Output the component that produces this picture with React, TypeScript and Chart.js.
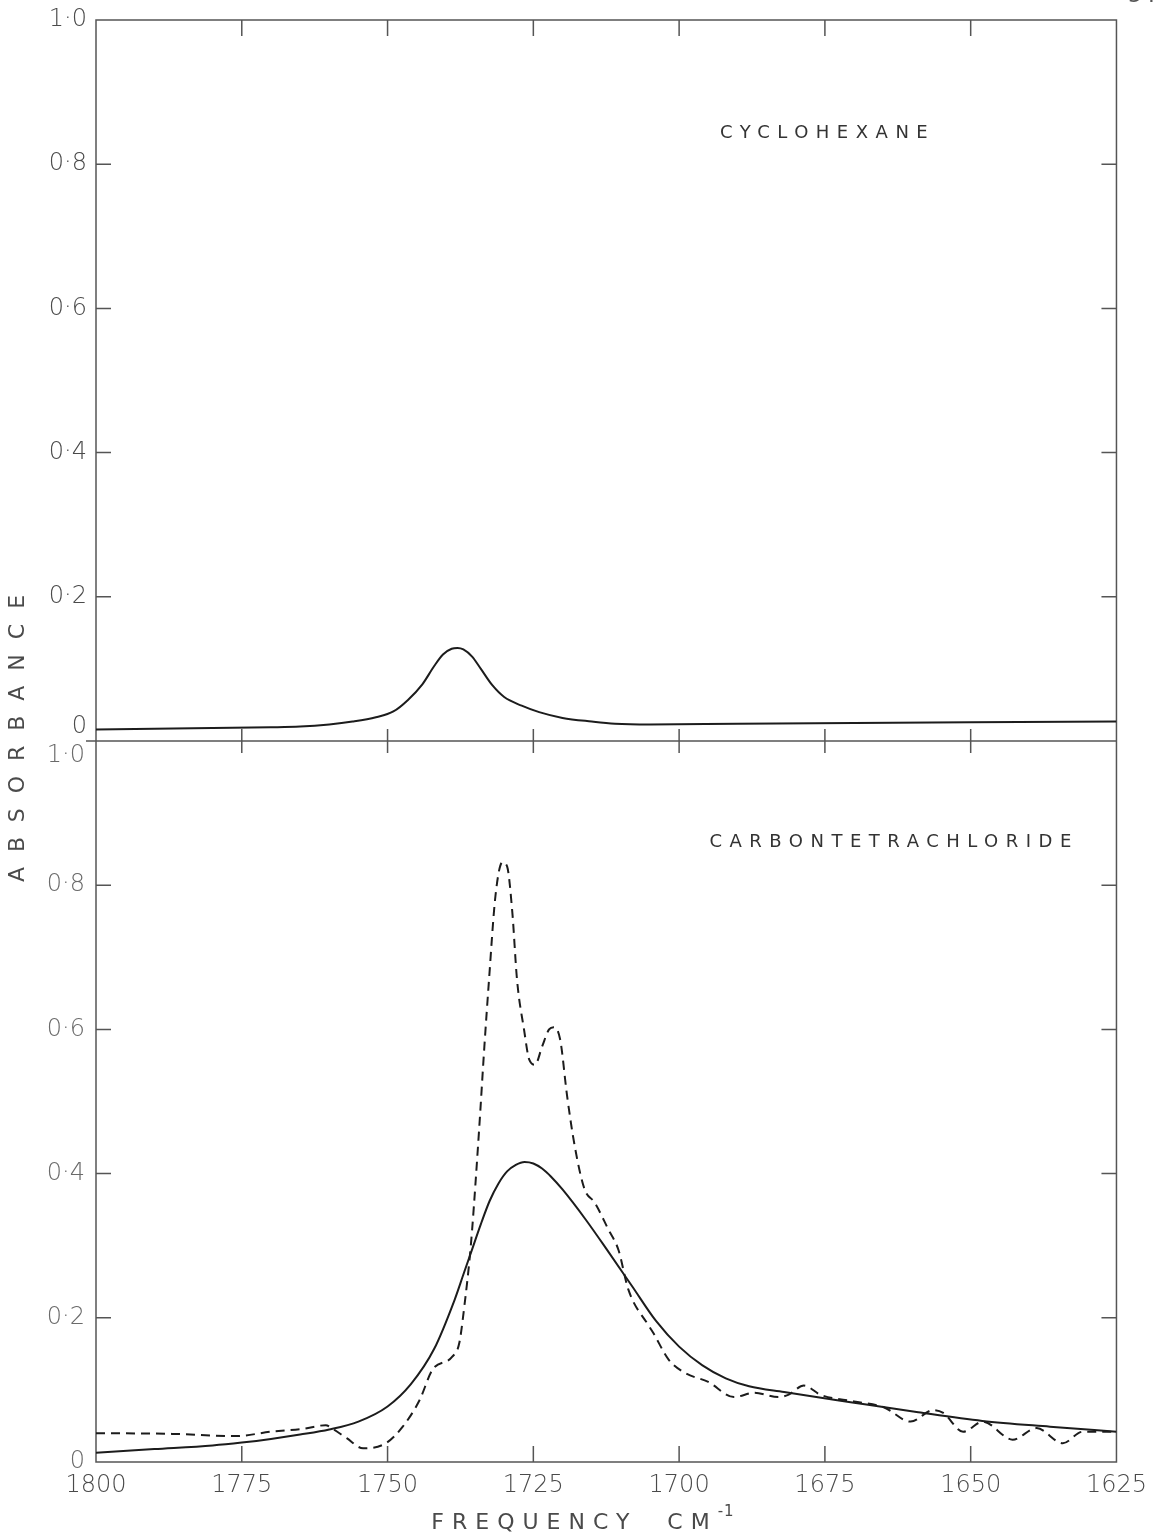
import React, { useEffect, useRef } from 'react';
import { Chart, registerables } from 'chart.js';

Chart.register(...registerables);

// ---- data (frequency in cm^-1, absorbance) ----
const xTickValues = [1800, 1775, 1750, 1725, 1700, 1675, 1650, 1625];
const yInnerTicks = [0.2, 0.4, 0.6, 0.8];

const cyclohexaneFreq = [1800, 1790, 1780, 1770, 1765, 1760, 1756, 1752, 1749, 1746.5, 1744, 1742, 1740.5, 1739, 1738, 1737, 1735.5, 1734, 1732, 1730, 1727, 1724, 1720, 1715, 1711, 1705, 1690, 1670, 1650, 1625];
const cyclohexaneAbs = [0.016, 0.017, 0.018, 0.019, 0.020, 0.023, 0.027, 0.033, 0.041, 0.057, 0.079, 0.104, 0.120, 0.128, 0.129, 0.127, 0.117, 0.100, 0.077, 0.061, 0.049, 0.040, 0.032, 0.027, 0.024, 0.023, 0.024, 0.025, 0.026, 0.027];

const ccl4SolidFreq = [1800, 1790, 1780, 1775, 1770, 1765, 1760, 1755, 1750, 1746, 1742, 1738.5, 1737, 1735.5, 1734, 1732.5, 1731, 1729.5, 1728, 1726.5, 1725, 1723.5, 1722, 1720, 1716, 1712, 1708, 1704, 1700, 1696, 1692, 1688, 1682, 1670.6, 1659, 1648, 1636.4, 1625];
const ccl4SolidAbs = [0.013, 0.018, 0.023, 0.027, 0.032, 0.038, 0.045, 0.056, 0.077, 0.108, 0.157, 0.225, 0.260, 0.295, 0.330, 0.362, 0.386, 0.403, 0.412, 0.416, 0.414, 0.407, 0.396, 0.378, 0.336, 0.290, 0.243, 0.196, 0.160, 0.134, 0.116, 0.105, 0.097, 0.083, 0.069, 0.057, 0.049, 0.042];

const ccl4DashedFreq = [1800, 1787, 1776, 1770, 1764.5, 1760.6, 1759.4, 1757, 1754.2, 1750.3, 1747.4, 1744.5, 1742.3, 1738.9, 1737.7, 1736.7, 1736.0, 1735.5, 1734.3, 1733.4, 1732.6, 1731.5, 1730.3, 1729.5, 1728.6, 1727.8, 1726.6, 1725.7, 1724.7, 1723.5, 1722.3, 1721.5, 1720.4, 1719.2, 1717.9, 1716.2, 1714.5, 1712.1, 1710.4, 1708.7, 1705.3, 1704.5, 1701.8, 1699.1, 1695.0, 1690.6, 1687.1, 1683.0, 1681.3, 1678.6, 1675.7, 1670, 1664.9, 1660.3, 1656.4, 1654.7, 1651.3, 1647.9, 1642.8, 1638.7, 1634.2, 1630.8, 1625.3];
const ccl4DashedAbs = [0.040, 0.039, 0.036, 0.042, 0.046, 0.051, 0.046, 0.033, 0.019, 0.026, 0.049, 0.086, 0.128, 0.146, 0.165, 0.225, 0.276, 0.322, 0.461, 0.576, 0.669, 0.785, 0.832, 0.826, 0.762, 0.669, 0.600, 0.558, 0.551, 0.576, 0.600, 0.603, 0.586, 0.507, 0.438, 0.378, 0.360, 0.322, 0.294, 0.239, 0.190, 0.180, 0.142, 0.124, 0.111, 0.090, 0.096, 0.090, 0.093, 0.106, 0.093, 0.084, 0.076, 0.056, 0.072, 0.068, 0.042, 0.056, 0.031, 0.047, 0.026, 0.042, 0.042];

const panelTitles = ['CYCLOHEXANE', 'CARBONTETRACHLORIDE'];
const yAxisTitle = 'ABSORBANCE';
const xAxisTitle = 'FREQUENCY  CM';
const xAxisTitleSup = '-1';
const pageNumber = '54';

const FONT = "'DejaVu Sans', sans-serif";
const INK = '#1c1c1c';
const AXIS = '#555';
const TEXT = '#4a4a4a';

const toPoints = (xs: number[], ys: number[]) => xs.map((x, i) => ({ x, y: ys[i] }));

const fmt = (v: number) => {
  if (Math.abs(v) < 1e-9) return '0';
  return v.toFixed(1).replace('.', '·');
};

const fixY = (s: any) => {
  s.width = 86;
  s.paddingTop = 0;
  s.paddingBottom = 0;
};

const framePlugin = {
  id: 'frame',
  beforeDatasetsDraw(chart: any) {
    const { ctx, chartArea } = chart;
    const x = chart.scales.x;
    const yt = chart.scales.yTop;
    const yb = chart.scales.yBot;
    const L = chartArea.left;
    const R = chartArea.right;
    const T = yt.getPixelForValue(1);
    const M = yt.getPixelForValue(0);
    const B = yb.getPixelForValue(0);
    ctx.save();
    ctx.strokeStyle = AXIS;
    ctx.lineWidth = 1.5;
    ctx.strokeRect(L, T, R - L, B - T);
    ctx.beginPath();
    ctx.moveTo(L - 10, M);
    ctx.lineTo(R, M);
    ctx.stroke();
    ctx.beginPath();
    for (const f of xTickValues) {
      if (f === 1800 || f === 1625) continue;
      const px = x.getPixelForValue(f);
      ctx.moveTo(px, T); ctx.lineTo(px, T + 16);
      ctx.moveTo(px, M - 12); ctx.lineTo(px, M + 12);
      ctx.moveTo(px, B - 16); ctx.lineTo(px, B);
    }
    for (const s of [yt, yb]) {
      for (const v of yInnerTicks) {
        const py = s.getPixelForValue(v);
        ctx.moveTo(L, py); ctx.lineTo(L + 15, py);
        ctx.moveTo(R - 15, py); ctx.lineTo(R, py);
      }
    }
    ctx.stroke();
    ctx.restore();
  },
  afterDraw(chart: any) {
    const { ctx } = chart;
    const x = chart.scales.x;
    const yt = chart.scales.yTop;
    const yb = chart.scales.yBot;
    ctx.save();
    ctx.fillStyle = '#333';
    ctx.textBaseline = 'middle';
    ctx.textAlign = 'left';
    ctx.font = `18px ${FONT}`;
    (ctx as any).letterSpacing = '7.5px';
    ctx.fillText(panelTitles[0], x.getPixelForValue(1693), yt.getPixelForValue(0.843));
    ctx.fillText(panelTitles[1], x.getPixelForValue(1694.8), yb.getPixelForValue(0.86));

    // y axis title
    ctx.save();
    ctx.fillStyle = TEXT;
    ctx.font = `22px ${FONT}`;
    (ctx as any).letterSpacing = '15px';
    ctx.translate(18, 738);
    ctx.rotate(-Math.PI / 2);
    ctx.textAlign = 'center';
    ctx.fillText(yAxisTitle, 7, 0);
    ctx.restore();

    // x axis title
    ctx.fillStyle = TEXT;
    ctx.font = `22px ${FONT}`;
    (ctx as any).letterSpacing = '8px';
    const w = ctx.measureText(xAxisTitle).width;
    ctx.font = `15px ${FONT}`;
    (ctx as any).letterSpacing = '1px';
    const ws = ctx.measureText(xAxisTitleSup).width;
    const total = w + ws;
    const startX = 583 - total / 2;
    ctx.font = `22px ${FONT}`;
    (ctx as any).letterSpacing = '8px';
    ctx.textAlign = 'left';
    ctx.fillText(xAxisTitle, startX, 1523);
    ctx.font = `15px ${FONT}`;
    (ctx as any).letterSpacing = '1px';
    ctx.fillText(xAxisTitleSup, startX + w, 1512);

    // page number (cut at top edge)
    ctx.fillStyle = '#555';
    ctx.font = `22px ${FONT}`;
    (ctx as any).letterSpacing = '0px';
    ctx.textBaseline = 'bottom';
    ctx.fillText(pageNumber, 1128, 7);
    ctx.restore();
  },
};

export default function App() {
  const ref = useRef<HTMLCanvasElement | null>(null);
  useEffect(() => {
    document.body.style.margin = '0';
    document.body.style.overflow = 'hidden';
    const canvas = ref.current;
    if (!canvas) return;
    const tickFont = { family: FONT, size: 24, weight: '200' as any };
    const chart = new Chart(canvas, {
      type: 'line',
      data: {
        datasets: [
          {
            label: 'Cyclohexane',
            data: toPoints(cyclohexaneFreq, cyclohexaneAbs),
            yAxisID: 'yTop',
            borderColor: INK,
            borderWidth: 2,
            pointRadius: 0,
            cubicInterpolationMode: 'monotone',
            fill: false,
          },
          {
            label: 'CCl4 solid',
            data: toPoints(ccl4SolidFreq, ccl4SolidAbs),
            yAxisID: 'yBot',
            borderColor: INK,
            borderWidth: 2,
            pointRadius: 0,
            cubicInterpolationMode: 'monotone',
            fill: false,
          },
          {
            label: 'CCl4 dashed',
            data: toPoints(ccl4DashedFreq, ccl4DashedAbs),
            yAxisID: 'yBot',
            borderColor: INK,
            borderWidth: 2,
            borderDash: [9, 6],
            pointRadius: 0,
            cubicInterpolationMode: 'monotone',
            fill: false,
          },
        ],
      },
      options: {
        responsive: false,
        animation: false,
        devicePixelRatio: 1,
        layout: { padding: { left: 10, right: 38, top: 20, bottom: 0 } },
        plugins: { legend: { display: false }, tooltip: { enabled: false } },
        scales: {
          x: {
            type: 'linear',
            reverse: true,
            min: 1625,
            max: 1800,
            grid: { display: false, drawTicks: false },
            border: { display: false },
            ticks: {
              stepSize: 25,
              autoSkip: false,
              maxRotation: 0,
              padding: 9,
              color: TEXT,
              font: tickFont,
              callback: (v: any) => String(v),
            },
            afterFit: (s: any) => { s.height = 76; },
          },
          yTop: {
            type: 'linear',
            position: 'left',
            stack: 'panels',
            stackWeight: 1,
            weight: 2,
            min: 0,
            max: 1,
            grid: { display: false, drawTicks: false },
            border: { display: false },
            ticks: {
              stepSize: 0.2,
              autoSkip: false,
              padding: 9,
              color: TEXT,
              font: tickFont,
              callback: (v: any) => (Math.abs(v) < 1e-9 ? ['0', ''] : fmt(v)),
            },
            afterFit: fixY,
          },
          yBot: {
            type: 'linear',
            position: 'left',
            stack: 'panels',
            stackWeight: 1,
            weight: 1,
            min: 0,
            max: 1,
            grid: { display: false, drawTicks: false },
            border: { display: false },
            ticks: {
              stepSize: 0.2,
              autoSkip: false,
              padding: 11,
              color: '#6a6a6a',
              font: tickFont,
              callback: (v: any) => (Math.abs(v - 1) < 1e-9 ? ['', fmt(v)] : fmt(v)),
            },
            afterFit: fixY,
          },
        },
      } as any,
      plugins: [framePlugin],
    });
    return () => chart.destroy();
  }, []);
  return (
    <div style={{ width: 1156, height: 1538, background: '#fff' }}>
      <canvas ref={ref} width={1156} height={1538} style={{ display: 'block' }} />
    </div>
  );
}
